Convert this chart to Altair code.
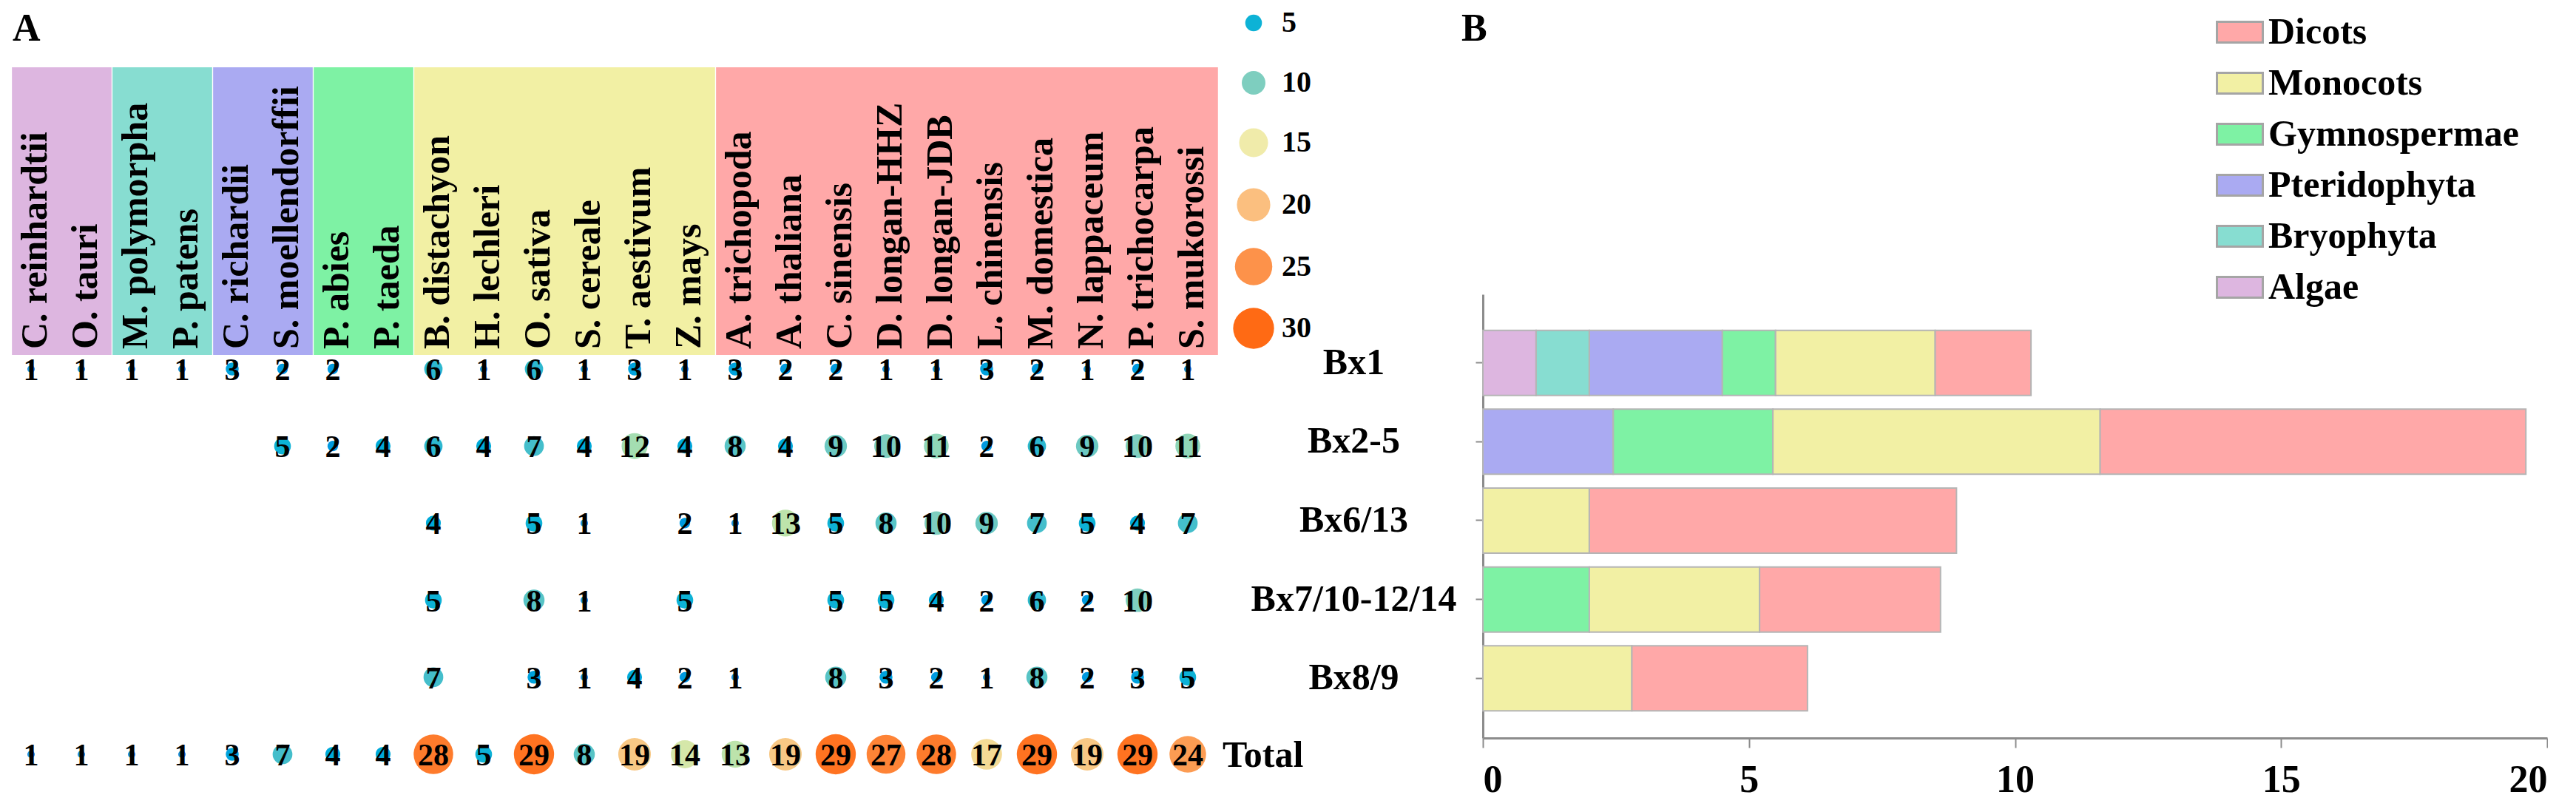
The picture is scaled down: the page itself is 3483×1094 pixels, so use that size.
import altair as alt
import pandas as pd

SERIF = "Liberation Serif"

# ---------------- data: panel A ----------------
species = ["C. reinhardtii", "O. tauri", "M. polymorpha", "P. patens", "C. richardii",
           "S. moellendorffii", "P. abies", "P. taeda", "B. distachyon", "H. lechleri",
           "O. sativa", "S. cereale", "T. aestivum", "Z. mays", "A. trichopoda",
           "A. thaliana", "C. sinensis", "D. longan-HHZ", "D. longan-JDB", "L. chinensis",
           "M. domestica", "N. lappaceum", "P. trichocarpa", "S. mukorossi"]
lineage = (["Algae"] * 2 + ["Bryophyta"] * 2 + ["Pteridophyta"] * 2 +
           ["Gymnospermae"] * 2 + ["Monocots"] * 6 + ["Dicots"] * 10)
rows = ["Bx1", "Bx2-5", "Bx6/13", "Bx7/10-12/14", "Bx8/9", "Total"]

bx1 = [1, 1, 1, 1, 3, 2, 2, None, 6, 1, 6, 1, 3, 1, 3, 2, 2, 1, 1, 3, 2, 1, 2, 1]
bx2_5 = [None, None, None, None, None, 5, 2, 4, 6, 4, 7, 4, 12, 4, 8, 4, 9, 10, 11, 2, 6, 9, 10, 11]
bx6_13 = [None] * 8 + [4, None, 5, 1, None, 2, 1, 13, 5, 8, 10, 9, 7, 5, 4, 7]
bx7_14 = [None] * 8 + [5, None, 8, 1, None, 5, None, None, 5, 5, 4, 2, 6, 2, 10, None]
bx8_9 = [None] * 8 + [7, None, 3, 1, 4, 2, 1, None, 8, 3, 2, 1, 8, 2, 3, 5]
total = [1, 1, 1, 1, 3, 7, 4, 4, 28, 5, 29, 8, 19, 14, 13, 19, 29, 27, 28, 17, 29, 19, 29, 24]

legend_values = [5, 10, 15, 20, 25, 30]

# ---------------- data: panel B ----------------
b_groups = ["Algae", "Bryophyta", "Pteridophyta", "Gymnospermae", "Monocots", "Dicots"]
b_bx1 = [1.0, 1.0, 2.5, 1.0, 3.0, 1.8]
b_bx2_5 = [0, 0, 2.45, 3.0, 6.15, 8.0]
b_bx6_13 = [0, 0, 0, 0, 2.0, 6.9]
b_bx7_14 = [0, 0, 0, 2.0, 3.2, 3.4]
b_bx8_9 = [0, 0, 0, 0, 2.8, 3.3]

# ---------------- styles ----------------
group_order = ["Dicots", "Monocots", "Gymnospermae", "Pteridophyta", "Bryophyta", "Algae"]
group_colors = ["#FFA8A8", "#F2F0A4", "#7EF2A4", "#AAAAF2", "#87DDD1", "#DDB6E0"]
dot_domain = [1, 5, 10, 15, 20, 25, 30]
dot_colors = ["#1F8FE0", "#0DB2D6", "#7ECEBF", "#F0EBAA", "#FBBF7F", "#FD924A", "#FF6A14"]
dot_sizes = [102, 510, 1020, 1530, 2040, 2550, 3060]

# ---------------- tables ----------------
row_lists = [bx1, bx2_5, bx6_13, bx7_14, bx8_9, total]
dots = []
for r, vals in zip(rows, row_lists):
    for i, v in enumerate(vals):
        if v is not None:
            dots.append({"idx": i, "row": r, "n": v})
df_dots = pd.DataFrame(dots)
df_species = pd.DataFrame({"idx": list(range(len(species))), "name": species})

bands = []
for g in b_groups:
    ids = [i for i, l in enumerate(lineage) if l == g]
    bands.append({"group": g, "start": min(ids) - 0.38, "end": max(ids) + 0.6})
df_bands = pd.DataFrame(bands)

bars = []
for r, vals in zip(rows[:5], [b_bx1, b_bx2_5, b_bx6_13, b_bx7_14, b_bx8_9]):
    for k, (g, v) in enumerate(zip(b_groups, vals)):
        if v > 0:
            bars.append({"row": r, "group": g, "value": v, "order": k})
df_bars = pd.DataFrame(bars)

# ---------------- panel A ----------------
WA, HA = 1632, 907
xA = alt.Scale(domain=[-0.5, 23.5], nice=False, zero=False)
yA = alt.Scale(type="point", domain=rows, range=[408, 929], padding=0)
fill_scale = alt.Scale(domain=group_order, range=group_colors)

legA = alt.Legend(title=None, orient="none", legendX=1659, legendY=-80,
                  values=legend_values, labelFont=SERIF, labelFontWeight="bold",
                  labelFontSize=40, labelOffset=10, rowPadding=25, gridAlign="all",
                  direction="vertical", symbolStrokeWidth=0, labelColor="black")

band_layer = alt.Chart(df_bands).mark_rect().encode(
    x=alt.X("start:Q", scale=xA, axis=None),
    x2="end:Q",
    y=alt.value(0),
    y2=alt.value(389),
    fill=alt.Fill("group:N", scale=fill_scale, legend=None),
)

name_layer = alt.Chart(df_species).mark_text(
    angle=270, align="left", baseline="middle", font=SERIF, fontWeight="bold",
    fontSize=50, dy=6, color="black"
).encode(
    x=alt.X("idx:Q", scale=xA, axis=None),
    y=alt.value(381),
    text="name:N",
)

dot_layer = alt.Chart(df_dots).mark_circle(opacity=1).encode(
    x=alt.X("idx:Q", scale=xA, axis=None),
    y=alt.Y("row:N", scale=yA, axis=None),
    size=alt.Size("n:Q", scale=alt.Scale(domain=dot_domain, range=dot_sizes), legend=legA),
    color=alt.Color("n:Q", scale=alt.Scale(domain=dot_domain, range=dot_colors), legend=legA),
)

num_layer = alt.Chart(df_dots).mark_text(
    font=SERIF, fontWeight="bold", fontSize=42, baseline="middle", dy=2, color="black"
).encode(
    x=alt.X("idx:Q", scale=xA, axis=None),
    y=alt.Y("row:N", scale=yA, axis=None),
    text=alt.Text("n:Q", format="d"),
)

total_layer = alt.Chart(pd.DataFrame({"row": ["Total"]})).mark_text(
    font=SERIF, fontWeight="bold", fontSize=50, align="left", baseline="middle", dy=2,
    color="black"
).encode(
    x=alt.value(1645),
    y=alt.Y("row:N", scale=yA, axis=None),
    text="row:N",
)

labelA = alt.Chart(pd.DataFrame({"t": ["A"]})).mark_text(
    font=SERIF, fontWeight="bold", fontSize=52, align="left", baseline="alphabetic",
    color="black"
).encode(x=alt.value(9), y=alt.value(-36), text="t:N")

panelA = alt.layer(band_layer, name_layer, dot_layer, num_layer, total_layer, labelA).properties(
    width=WA, height=HA,
)

# ---------------- panel B ----------------
WB, HB = 1439, 907
legB = alt.Legend(title=None, orient="none", legendX=991, legendY=-80,
                  symbolType="M-1,-0.45H1V0.45H-1Z", symbolSize=3844,
                  symbolStrokeColor="#A5A5A5", symbolStrokeWidth=3,
                  labelFont=SERIF, labelFontWeight="bold", labelFontSize=50,
                  labelOffset=6, rowPadding=11, labelLimit=0, labelColor="black",
                  direction="vertical")

bar_layer = alt.Chart(df_bars).mark_bar(stroke="#B5B5B5", strokeWidth=2).encode(
    x=alt.X("value:Q", stack="zero", title=None,
            scale=alt.Scale(domain=[0, 20], nice=False, zero=True),
            axis=alt.Axis(values=[0, 5, 10, 15, 20], grid=False, tickSize=13,
                          labelFontSize=52, labelPadding=18)),
    y=alt.Y("row:N", title=None,
            scale=alt.Scale(domain=rows[:5], range=[307, 907], paddingInner=0.175,
                            paddingOuter=0.4, align=0.57),
            axis=alt.Axis(grid=False, tickSize=10, labelFontSize=50, labelAlign="center",
                          labelPadding=165, labelLimit=0)),
    fill=alt.Fill("group:N", scale=fill_scale, legend=legB),
    order=alt.Order("order:Q"),
)

labelB = alt.Chart(pd.DataFrame({"t": ["B"]})).mark_text(
    font=SERIF, fontWeight="bold", fontSize=52, align="left", baseline="alphabetic",
    color="black"
).encode(x=alt.value(-29), y=alt.value(-36), text="t:N")

panelB = alt.layer(bar_layer, labelB).properties(width=WB, height=HB)

chart = alt.hconcat(panelA, panelB, spacing=365, bounds="flush").resolve_scale(
    fill="independent"
).properties(
    padding={"left": 0, "top": 3, "right": 0, "bottom": 0}
).configure_view(stroke=None).configure_axis(
    domainColor="#8C8C8C", domainWidth=3, tickColor="#8C8C8C", tickWidth=2,
    labelFont=SERIF, labelFontWeight="bold", labelColor="black",
)

chart.save("out.html", embed_options={"renderer": "svg", "actions": False})
